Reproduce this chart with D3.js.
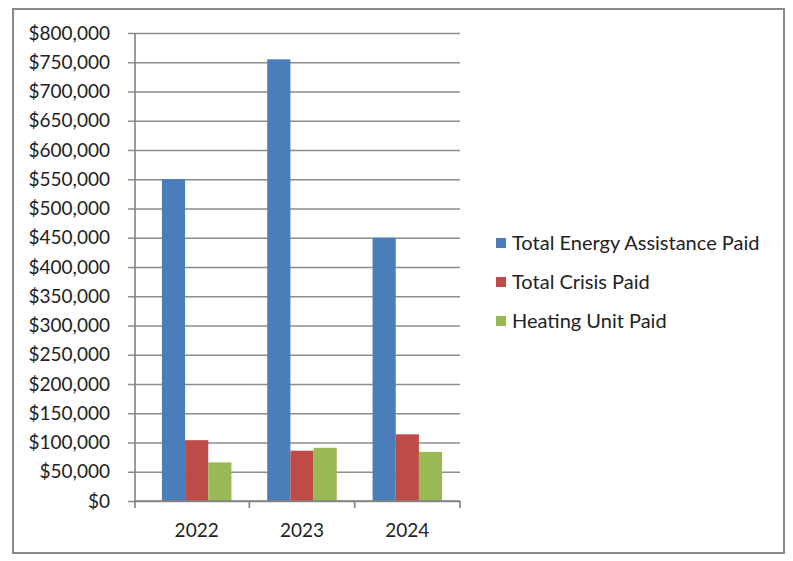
<!DOCTYPE html>
<html>
  <head>
    <meta charset="UTF-8">
    <title>Energy Assistance Paid</title>
    <script src="https://cdnjs.cloudflare.com/ajax/libs/d3/7.8.5/d3.min.js"></script>
    <style>
      body { margin: 0; background: #fff; font-family: Lato, "Open Sans", sans-serif; }
    </style>
  </head>
  <body>
    <script>
      // chart data
      var years = ["2022", "2023", "2024"];
      var seriesNames = ["Total Energy Assistance Paid", "Total Crisis Paid", "Heating Unit Paid"];
      var energyPaid = [550000, 755000, 450000];
      var crisisPaid = [104000, 86000, 114000];
      var heatingPaid = [66000, 91000, 84000];
      var yTicks = [0, 50000, 100000, 150000, 200000, 250000, 300000, 350000,
                    400000, 450000, 500000, 550000, 600000, 650000, 700000, 750000, 800000];
      var colors = ["#4a7ebb", "#be4b48", "#98b954"];

      var series = [energyPaid, crisisPaid, heatingPaid];

      var svg = d3.select("body").append("svg")
        .attr("width", 793)
        .attr("height", 561);

      // outer frame
      svg.append("rect")
        .attr("x", 13).attr("y", 9)
        .attr("width", 771).attr("height", 544)
        .style("fill", "#fff")
        .style("stroke", "#8a8a8a")
        .style("stroke-width", 2);

      var y = d3.scaleLinear().domain([0, 800000]).range([501, 33]);
      var x = d3.scaleBand().domain(years).range([144, 460])
        .paddingInner(0.34).paddingOuter(0.17);
      var xs = d3.scaleBand().domain(d3.range(series.length)).range([0, x.bandwidth()]);

      // gridlines + y labels
      var fmt = function (v) { return "$" + d3.format(",")(v); };
      var yAxis = svg.append("g")
        .attr("transform", "translate(460,0)")
        .call(d3.axisLeft(y).tickValues(yTicks).tickSize(332).tickPadding(18).tickFormat(fmt));
      yAxis.select(".domain").remove();
      yAxis.selectAll(".tick line").style("stroke", "#8c8c8c").style("stroke-width", 1.6);
      yAxis.selectAll(".tick text")
        .style("font-family", "Lato, 'Open Sans', sans-serif")
        .style("font-size", "19px")
        .style("fill", "#222");

      // bars
      var groups = svg.selectAll(".year")
        .data(years)
        .enter().append("g")
        .attr("class", "year")
        .attr("transform", function (d) { return "translate(" + x(d) + ",0)"; });

      groups.selectAll("rect")
        .data(function (d, i) { return series.map(function (s, k) { return { k: k, v: s[i] }; }); })
        .enter().append("rect")
        .attr("x", function (d) { return xs(d.k); })
        .attr("y", function (d) { return y(d.v); })
        .attr("width", xs.bandwidth())
        .attr("height", function (d) { return y(0) - y(d.v); })
        .style("fill", function (d) { return colors[d.k]; });

      // y axis line
      svg.append("line")
        .attr("x1", 135).attr("x2", 135)
        .attr("y1", y(800000)).attr("y2", y(0) + 7)
        .style("stroke", "#808080").style("stroke-width", 1.6);

      // x axis line + ticks
      svg.append("line")
        .attr("x1", 135).attr("x2", 460)
        .attr("y1", y(0)).attr("y2", y(0))
        .style("stroke", "#808080").style("stroke-width", 1.6);
      var bounds = years.map(function (d) { return x(d) - x.step() * x.paddingInner() / 2; });
      bounds.push(460);
      svg.selectAll(".xtick")
        .data(bounds.slice(1))
        .enter().append("line")
        .attr("x1", function (d) { return d; }).attr("x2", function (d) { return d; })
        .attr("y1", y(0)).attr("y2", y(0) + 7)
        .style("stroke", "#808080").style("stroke-width", 1.6);

      svg.selectAll(".xlabel")
        .data(years)
        .enter().append("text")
        .attr("x", function (d) { return x(d) + x.bandwidth() / 2; })
        .attr("y", 537)
        .attr("text-anchor", "middle")
        .style("font-size", "19px")
        .style("fill", "#222")
        .text(function (d) { return d; });

      // legend
      var legend = svg.selectAll(".legend")
        .data(seriesNames)
        .enter().append("g")
        .attr("transform", function (d, i) { return "translate(496," + (243 + i * 39) + ")"; });
      legend.append("rect")
        .attr("x", 0).attr("y", -5)
        .attr("width", 10).attr("height", 10)
        .style("fill", function (d, i) { return colors[i]; });
      legend.append("text")
        .attr("x", 16).attr("y", 7)
        .style("font-size", "20px")
        .style("fill", "#222")
        .text(function (d) { return d; });
    </script>
  </body>
</html>
